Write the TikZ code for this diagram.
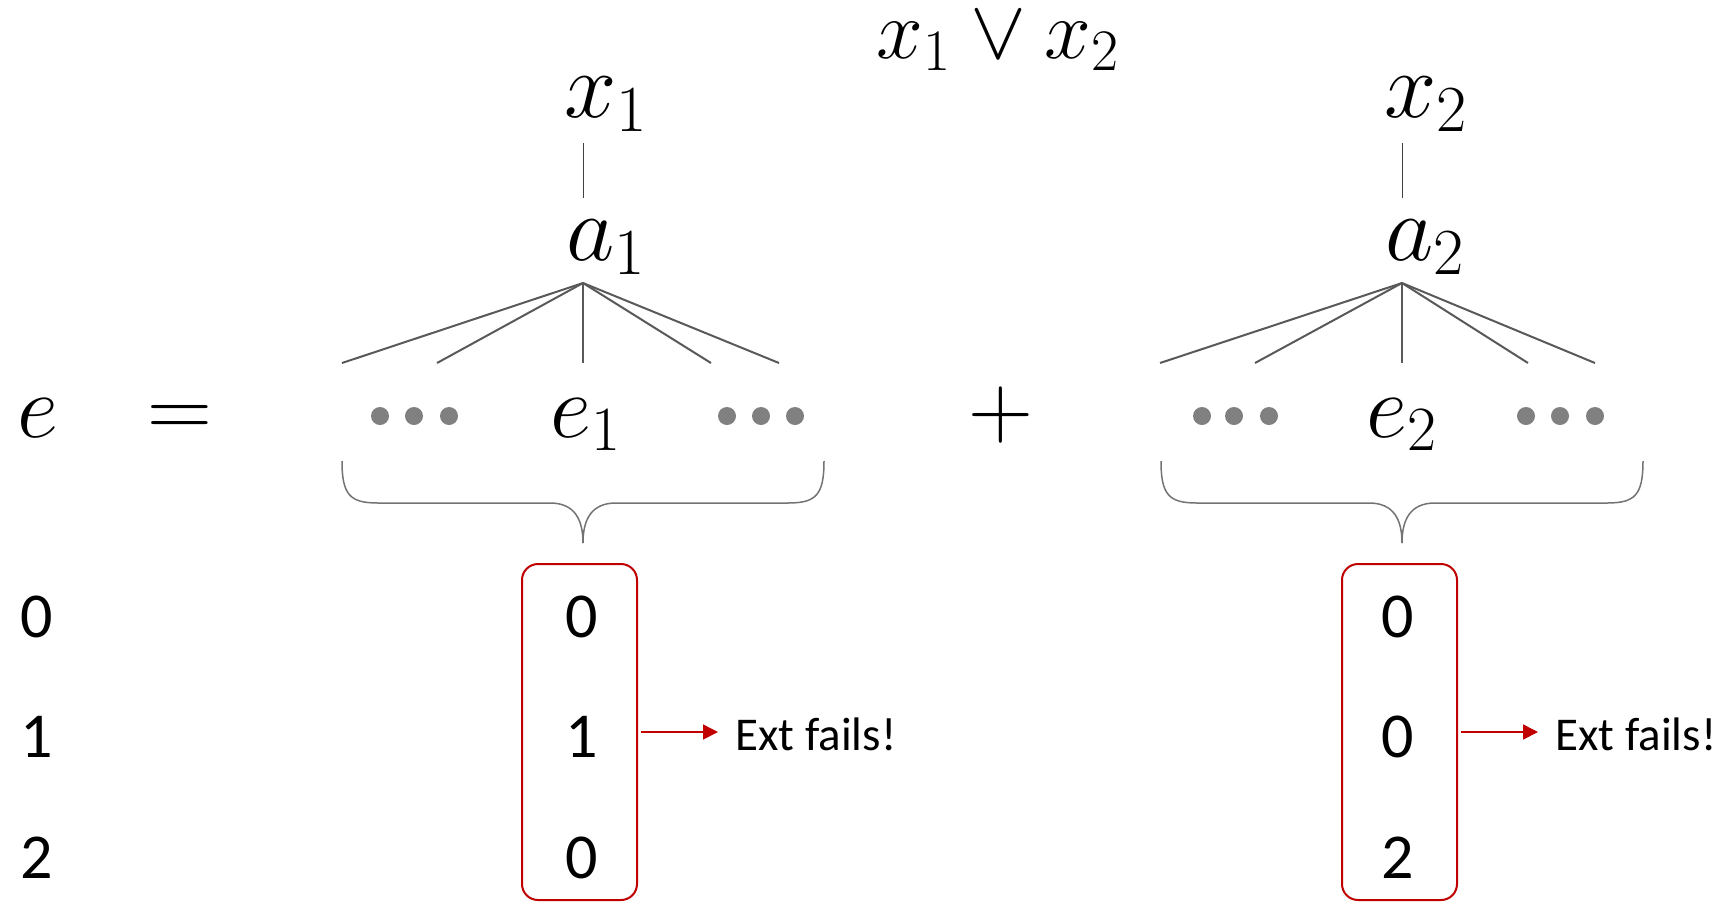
\documentclass[tikz,border=0pt]{standalone}
\usepackage{fix-cm}
\usepackage{amsmath,amssymb}
\usepackage{fontspec}
\newfontfamily\calib{Carlito}
\usepackage{tikz}
\usetikzlibrary{arrows.meta}
\usepackage{xcolor}
\definecolor{BoxRed}{RGB}{192,0,0}
\definecolor{FanGray}{RGB}{89,89,89}
\definecolor{DotGray}{RGB}{128,128,128}
\tikzset{
	>={Triangle[length=7.5pt,width=7.5pt]},
	bigmath/.style={inner sep=0pt, anchor=base, font=\fontsize{47}{52}\selectfont},
	midmath/.style={inner sep=0pt, anchor=base, font=\fontsize{45}{50}\selectfont},
	topmath/.style={inner sep=0pt, anchor=base, font=\fontsize{42}{46}\selectfont},
	digit/.style={inner sep=0pt, anchor=base, font=\calib\fontsize{32}{36}\selectfont},
	failtext/.style={inner sep=0pt, anchor=base west, font=\calib\fontsize{23.5}{28}\selectfont},
	fan/.style={FanGray, line width=1pt},
	stem/.style={black!75, line width=0.5pt},
	brace/.style={black!55, line width=0.75pt},
	dot/.style={DotGray},
	valbox/.style={draw=BoxRed, line width=1pt, rounded corners=8pt,
		minimum width=57.5pt, minimum height=168pt, inner sep=0pt},
	failarrow/.style={BoxRed, line width=0.8pt, ->},
}

\begin{document}
\begin{tikzpicture}[x=0.5pt,y=-0.5pt]
	\useasboundingbox (0,0) rectangle (1721,902);
	
	% Formula on top
	\node[topmath] (clause) at (998,58) {$x_1 \vee x_2$};
	
	% Left tree: x_1 -- a_1
	\node[bigmath] (x1) at (606,117) {$x_1$};
	\node[bigmath] (a1) at (606,260) {$a_1$};
	\coordinate (stem1top) at (583,143);
	\coordinate (stem1bot) at (583,198);
	\draw[stem] (stem1top) -- (stem1bot);
	
	% Right tree: x_2 -- a_2
	\node[bigmath] (x2) at (1426,117) {$x_2$};
	\node[bigmath] (a2) at (1425,260) {$a_2$};
	\coordinate (stem2top) at (1402,143);
	\coordinate (stem2bot) at (1402,198);
	\draw[stem] (stem2top) -- (stem2bot);
	
	% Fans below a_1 and a_2
	\coordinate (apex1) at (583,283);
	\draw[fan] (apex1) -- (342,363);
	\draw[fan] (apex1) -- (437,363);
	\draw[fan] (apex1) -- (583,363);
	\draw[fan] (apex1) -- (711,363);
	\draw[fan] (apex1) -- (779,363);
	\coordinate (apex2) at (1402,283);
	\draw[fan] (apex2) -- (1160,363);
	\draw[fan] (apex2) -- (1255,363);
	\draw[fan] (apex2) -- (1402,363);
	\draw[fan] (apex2) -- (1528,363);
	\draw[fan] (apex2) -- (1595,363);
	
	% The sum e = ... e_1 ... + ... e_2 ...
	\node[midmath] (e) at (38,437) {$e$};
	\node[midmath] (eq) at (180,437) {$=$};
	\node[midmath] (e1) at (586,437) {$e_1$};
	\node[midmath] (plus) at (1001,437) {$+$};
	\node[midmath] (e2) at (1402,437) {$e_2$};
	
	% Gray dots
	\fill[dot] (380,416) circle (4.5pt);
	\fill[dot] (414,416) circle (4.5pt);
	\fill[dot] (449,416) circle (4.5pt);
	\fill[dot] (727,416) circle (4.5pt);
	\fill[dot] (761,416) circle (4.5pt);
	\fill[dot] (795,416) circle (4.5pt);
	\fill[dot] (1202,416) circle (4.5pt);
	\fill[dot] (1234,416) circle (4.5pt);
	\fill[dot] (1269,416) circle (4.5pt);
	\fill[dot] (1526,416) circle (4.5pt);
	\fill[dot] (1560,416) circle (4.5pt);
	\fill[dot] (1595,416) circle (4.5pt);
	
	% Braces
	\draw[brace] (342,461) .. controls (342,495) and (350,503) .. (378,503) -- (550,503)
		.. controls (575,503) and (583,520) .. (583,543);
	\draw[brace] (824,461) .. controls (824,495) and (816,503) .. (788,503) -- (616,503)
		.. controls (591,503) and (583,520) .. (583,543);
	\draw[brace] (1161,461) .. controls (1161,495) and (1169,503) .. (1197,503) -- (1369,503)
		.. controls (1394,503) and (1402,520) .. (1402,543);
	\draw[brace] (1643,461) .. controls (1643,495) and (1635,503) .. (1607,503) -- (1435,503)
		.. controls (1410,503) and (1402,520) .. (1402,543);
	
	% Values of e
	\node[digit] (v0) at (37,637) {0};
	\node[digit] (v1) at (37,757) {1};
	\node[digit] (v2) at (37,878) {2};
	
	% Left box
	\node[valbox] (box1) at (579.5,732) {};
	\node[digit] (b10) at (582,637) {0};
	\node[digit] (b11) at (582,757) {1};
	\node[digit] (b12) at (582,878) {0};
	\node[failtext] (fail1) at (735,750) {Ext fails!};
	\draw[failarrow] ([xshift=1.5pt]box1.east) -- ([xshift=-8.5pt]fail1.west |- box1.east);
	
	% Right box
	\node[valbox] (box2) at (1399.5,732) {};
	\node[digit] (b20) at (1398,637) {0};
	\node[digit] (b21) at (1398,757) {0};
	\node[digit] (b22) at (1398,878) {2};
	\node[failtext] (fail2) at (1555,750) {Ext fails!};
	\draw[failarrow] ([xshift=1.5pt]box2.east) -- ([xshift=-8.5pt]fail2.west |- box2.east);
	
\end{tikzpicture}
\end{document}
